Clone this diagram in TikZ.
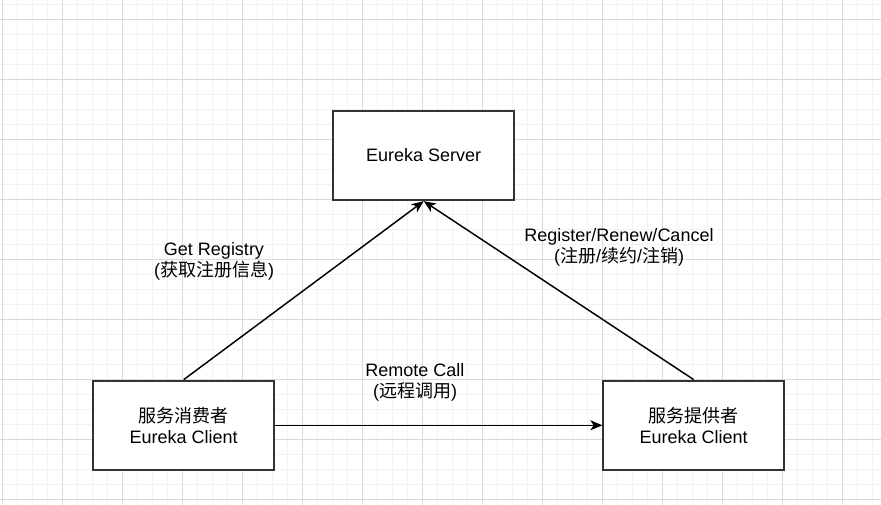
\documentclass[tikz,border=0pt]{standalone}
\usepackage{fontspec}
\setmainfont{Liberation Sans}
\newfontfamily\cjk{Noto Sans CJK SC}
\usepackage{xcolor}
\usetikzlibrary{arrows.meta}

\definecolor{gridminor}{HTML}{F2F2F2}
\definecolor{gridmajor}{HTML}{DADADA}
\definecolor{boxline}{HTML}{333333}

\begin{document}
\begin{tikzpicture}[x=0.75pt,y=-0.75pt,
  every node/.style={font=\fontsize{13.5}{15.75}\selectfont},
  box/.style={draw=boxline, line width=1.5pt, fill=white, align=center,
    minimum width=135.5pt, minimum height=67pt, inner sep=0pt},
  lbl/.style={align=center, inner sep=0pt},
  link/.style={line width=1.1pt, -{Stealth[length=9pt,width=7.5pt,inset=2.5pt]}}]
\useasboundingbox (0,0) rectangle (881,505);
\fill[white] (0,0) rectangle (881,505);
% grid %
\foreach \i in {0,...,58} \draw[gridminor, line width=0.75pt] (2.5+15*\i,0) -- (2.5+15*\i,505);
\foreach \j in {-1,...,33} \draw[gridminor, line width=0.75pt] (0,19.5+15*\j) -- (881,19.5+15*\j);
\foreach \i in {0,...,14} \draw[gridmajor, line width=0.75pt] (2.5+60*\i,0) -- (2.5+60*\i,505);
\foreach \j in {0,...,8} \draw[gridmajor, line width=0.75pt] (0,19.5+60*\j) -- (881,19.5+60*\j);

% boxes %
\node[box] (server) at (423.7,155.5) {Eureka Server};
\node[box] (consumer) at (183.7,425.3) {{\cjk 服务消费者}\\Eureka Client};
\node[box] (provider) at (693.7,425.3) {{\cjk 服务提供者}\\Eureka Client};

% links %
\draw[link] (consumer.north) -- (server.south);
\draw[link] (provider.north) -- (server.south);
\draw[link] (consumer.east) -- (provider.west);

% labels %
\node[lbl] (getreg) at (214,261.5) {Get Registry\\({\cjk 获取注册信息})};
\node[lbl] (regrenew) at (619,247.5) {Register/Renew/Cancel\\({\cjk 注册}/{\cjk 续约}/{\cjk 注销})};
\node[lbl] (remote) at (415,382.5) {Remote Call\\({\cjk 远程调用})};
\end{tikzpicture}
\end{document}
